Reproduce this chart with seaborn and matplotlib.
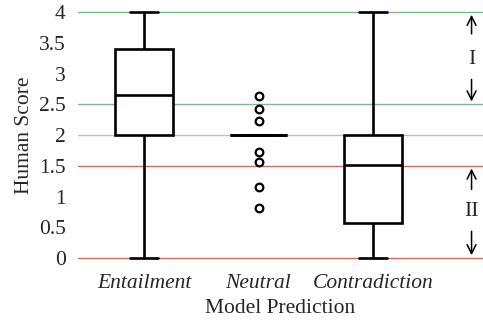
import pandas as pd
import seaborn as sns
import matplotlib.pyplot as plt

# Données (scores humains par prédiction du modèle)
categories = ['Entailment', 'Neutral', 'Contradiction']
entailment_scores = [0.0, 2.0, 2.65, 3.4, 4.0]
neutral_scores = [0.82, 1.15, 1.56, 1.73] + [2.0] * 20 + [2.22, 2.43, 2.63]
contradiction_scores = [0.0, 0.57, 1.52, 2.0, 4.0]

green_levels = [4, 2.5]
gray_levels = [2]
red_levels = [1.5, 0]

rows = []
for cat, vals in zip(categories, [entailment_scores, neutral_scores, contradiction_scores]):
    for v in vals:
        rows.append({'Model Prediction': cat, 'Human Score': v})
df = pd.DataFrame(rows)

sns.set_style('white')
plt.rcParams['font.family'] = ['Liberation Serif', 'DejaVu Serif']

fig = plt.figure(figsize=(4.83, 3.24), dpi=100)
ax = fig.add_axes([0.1615, 0.1923, 0.8385, 0.782])

for y in green_levels:
    ax.axhline(y, color='#72bf80', lw=1.0, zorder=0)
for y in gray_levels:
    ax.axhline(y, color='#bdbdbd', lw=1.0, zorder=0)
for y in red_levels:
    ax.axhline(y, color='#ff5a50', lw=1.0, zorder=0)

sns.boxplot(data=df, x='Model Prediction', y='Human Score', order=categories,
            width=0.5, whis=1.5, ax=ax, fill=True, color='white',
            linecolor='black', linewidth=1.9,
            flierprops=dict(marker='o', markersize=5.5, markeredgewidth=1.6,
                            markeredgecolor='black', markerfacecolor='none'),
            boxprops=dict(facecolor='white', edgecolor='black', zorder=2))

ax.set_xlim(-0.576, 2.96)
ax.set_ylim(-0.06, 4.06)
ax.set_yticks([0, 0.5, 1, 1.5, 2, 2.5, 3, 3.5, 4])
ax.set_yticklabels(['0', '0.5', '1', '1.5', '2', '2.5', '3', '3.5', '4'], fontsize=15.5)
ax.set_xticks([0, 1, 2])
ax.set_xticklabels(categories, fontsize=15.5, style='italic')
ax.tick_params(axis='y', length=0, pad=9)
ax.tick_params(axis='x', length=0, pad=9)
ax.set_xlabel('Model Prediction', fontsize=15.5, labelpad=4)
ax.set_ylabel('Human Score', fontsize=15.5, labelpad=3)
for s in ax.spines.values():
    s.set_visible(False)

# Flèches des zones I et II
xa = 2.86
arrow = dict(arrowstyle='->', color='black', lw=1.1, mutation_scale=16)
ax.annotate('', xy=(xa, 4.0), xytext=(xa, 3.6), arrowprops=arrow)
ax.text(xa, 3.22, 'I', ha='center', va='center', fontsize=15.5)
ax.annotate('', xy=(xa, 2.5), xytext=(xa, 2.95), arrowprops=arrow)
ax.annotate('', xy=(xa, 1.5), xytext=(xa, 1.07), arrowprops=arrow)
ax.text(xa, 0.76, 'II', ha='center', va='center', fontsize=15.5)
ax.annotate('', xy=(xa, 0.0), xytext=(xa, 0.48), arrowprops=arrow)

fig.savefig('out.png', dpi=100)
